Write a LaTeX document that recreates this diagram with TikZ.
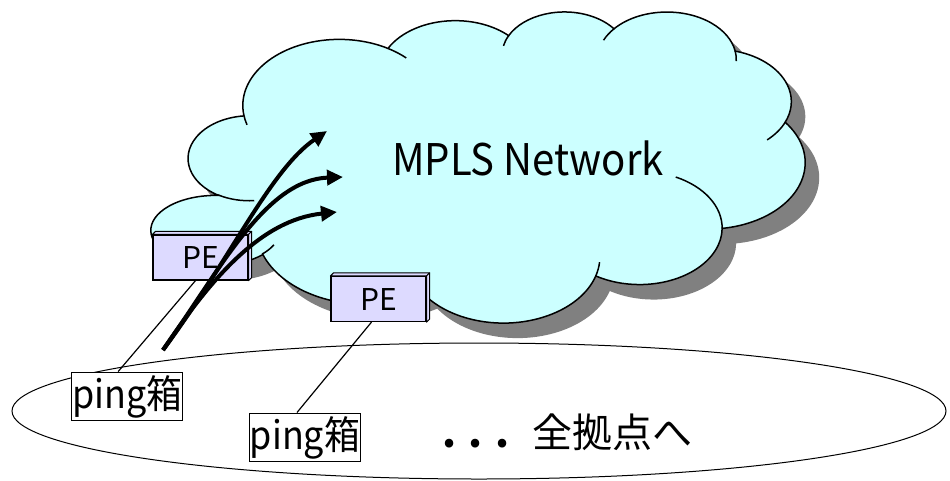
\documentclass[tikz,border=0pt]{standalone}
\usepackage{fontspec}
\setmainfont{Noto Sans CJK JP}
\newfontfamily\narrowfont[FakeStretch=0.92]{Noto Sans CJK JP}
\usetikzlibrary{arrows.meta,calc,shapes.geometric}

\definecolor{cloudfill}{HTML}{CCFFFF}
\definecolor{cloudshade}{HTML}{808080}
\definecolor{pefill}{HTML}{DDDAFF}

% Outline of the network cloud: eleven elliptic bumps, in a 432 x 432 frame
\newcommand\mplscloud{(39.00,143.70)
  arc[start angle=-187.75, end angle=-59.66, x radius=67.53, y radius=91.90]
  arc[start angle=-152.03, end angle=-45.49, x radius=53.33, y radius=72.67]
  arc[start angle=-153.49, end angle=-37.33, x radius=43.65, y radius=59.45]
  arc[start angle=-139.71, end angle=-10.21, x radius=48.57, y radius=65.95]
  arc[start angle=-74.77, end angle=23.21, x radius=53.33, y radius=72.73]
  arc[start angle=-37.52, end angle=81.86, x radius=67.75, y radius=92.20]
  arc[start angle=0.46, end angle=121.98, x radius=57.85, y radius=78.67]
  arc[start angle=16.84, end angle=146.24, x radius=67.52, y radius=92.15]
  arc[start angle=58.98, end angle=160, x radius=77.20, y radius=105.43]
  arc[start angle=43.6, end angle=272.6, x radius=45.51, y radius=48.62]
  arc[start angle=-239.65, end angle=-95.89, x radius=43.45, y radius=59.45]
  -- cycle}

% inner fold of a bump: centre, radii, parameter range
\newcommand\cloudfold[6]{%
  \draw[cloudline] ({#1+#3*cos(#5)},{#2+#4*sin(#5)})
    arc[start angle=#5, end angle=#6, x radius=#3, y radius=#4];}

\tikzset{
  cloudline/.style={line width=1.5pt},
  cloudframe/.style={x={(1.428241pt,0pt)}, y={(0pt,-0.719907pt)}},
  pebox/.style={draw, line width=1.2pt, fill=pefill, minimum width=95pt,
    minimum height=45pt, inner sep=0pt, font=\fontsize{30}{30}\selectfont},
  pebevel/.style={draw, line width=1pt, fill=pefill, line join=round},
  pingbox/.style={draw, line width=1pt, fill=white, minimum width=111pt,
    inner sep=0pt, text height=36pt, text depth=12pt,
    font=\narrowfont\fontsize{39}{39}\selectfont},
  link/.style={line width=1.2pt},
  probe/.style={line width=4pt, -{Triangle[length=16pt,width=15pt]}},
  caption/.style={inner sep=0pt, anchor=base west},
}

\begin{document}
\begin{tikzpicture}[x=1pt,y=-1pt]
\useasboundingbox (0,0) rectangle (950,480);

% the sites of the network
\node[ellipse, draw, line width=1pt, minimum width=934pt, minimum height=136pt,
  inner sep=0pt] (sites) at (479,411) {};

% ping boxes
\node[pingbox] (ping1) at (127.2,396) {ping箱};
\node[pingbox] (ping2) at (305,437) {ping箱};

% cloud with its drop shadow
\begin{scope}[shift={(202pt,-26pt)}, cloudframe]
  \fill[cloudshade] \mplscloud;
\end{scope}
\begin{scope}[shift={(188pt,-11pt)}, cloudframe]
  \draw[cloudline, fill=cloudfill] \mplscloud;
  \cloudfold{105.91}{131.31}{67.53}{91.90}{-59.66}{-46}
  \cloudfold{263.57}{60.79}{43.65}{59.45}{-153.49}{-168}
  \cloudfold{335.33}{67.38}{48.57}{65.95}{-139.71}{-156}
  \cloudfold{335.33}{67.38}{48.57}{65.95}{-10.21}{2}
  \cloudfold{369.12}{125.87}{53.33}{72.73}{23.21}{47}
  \cloudfold{316.14}{301.32}{57.85}{78.67}{0.46}{-64}
  \cloudfold{220.875}{341.354}{67.52}{92.15}{16.84}{4.73}
  \cloudfold{220.875}{341.354}{67.52}{92.15}{146.24}{160}
  \cloudfold{18.90}{304.2}{45.51}{48.62}{43.6}{25}
  \cloudfold{43.00}{204.13}{43.45}{59.45}{120.35}{85.54}
  \cloudfold{105.91}{131.31}{67.53}{91.90}{172.25}{163}
\end{scope}

% provider edge routers
\node[pebox] (pe1) at (200.5,257.5) {PE};
\node[pebox] (pe2) at (378.5,299) {PE};
\foreach \r in {pe1,pe2}{
  \draw[pebevel] (\r.north west) -- ++(3,-3) -- ($(\r.north east)+(3,-3)$)
    -- (\r.north east) -- cycle;
  \draw[pebevel] (\r.north east) -- ++(3,-3) -- ($(\r.south east)+(3,-3)$)
    -- (\r.south east) -- cycle;
}

% access links
\draw[link] ([xshift=-5pt]pe1.south) -- ([xshift=-9pt]ping1.north);
\draw[link] ([xshift=-7pt]pe2.south) -- ([xshift=-8pt]ping2.north);

% probes fanning out into the network
\coordinate (src) at (163,350);
\coordinate (hi) at (327,131);
\coordinate (mid) at (343,177);
\coordinate (lo) at (337,212);
\draw[probe] (src) .. controls (230,260) and (270,170) .. (hi);
\draw[probe] (src) .. controls (220,270) and (265,180) .. (mid);
\draw[probe] (src) .. controls (210,280) and (260,220) .. (lo);

% labels
\node[caption, font=\narrowfont\fontsize{43.6}{43.6}\selectfont] (net) at (392,175) {MPLS Network};
\node[caption, font=\fontsize{40}{40}\selectfont] (dest) at (442,447)
  {{\bfseries .\hspace{12.5pt}.\hspace{12.5pt}.}\hspace{23.5pt}全拠点へ};
\end{tikzpicture}
\end{document}
